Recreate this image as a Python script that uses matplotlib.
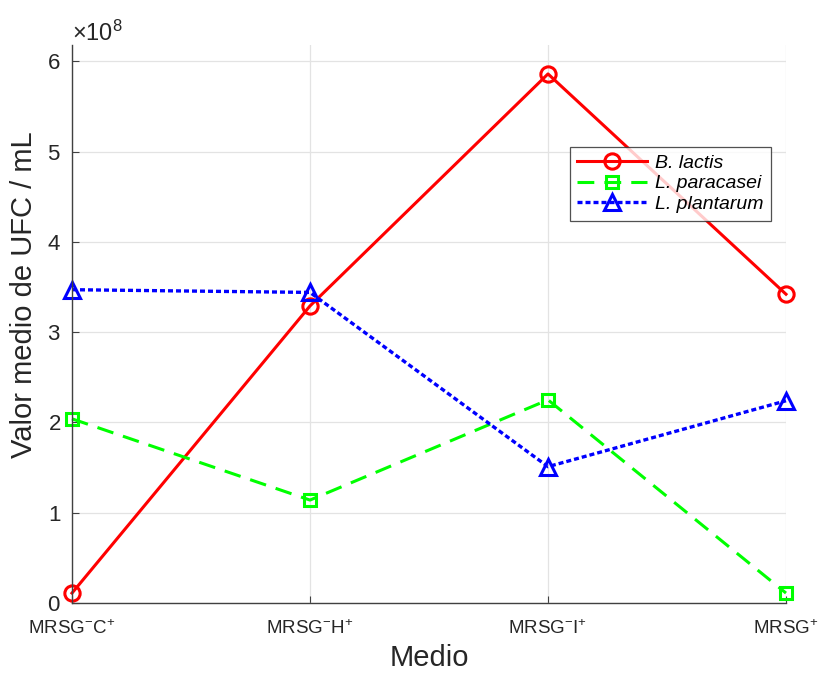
import numpy as np
import matplotlib
matplotlib.use("Agg")
import matplotlib.pyplot as plt
from matplotlib.ticker import ScalarFormatter

plt.rcParams["font.family"] = ["Liberation Sans", "DejaVu Sans"]
plt.rcParams["mathtext.fontset"] = "custom"
plt.rcParams["mathtext.rm"] = "Liberation Sans"
plt.rcParams["mathtext.it"] = "Liberation Sans:italic"

# Data (UFC / mL)
medios = [r"MRSG$^{-}$C$^{+}$", r"MRSG$^{-}$H$^{+}$", r"MRSG$^{-}$I$^{+}$", r"MRSG$^{+}$"]
b_lactis = [0.11e8, 3.29e8, 5.86e8, 3.42e8]
l_paracasei = [2.04e8, 1.14e8, 2.25e8, 0.11e8]
l_plantarum = [3.47e8, 3.44e8, 1.51e8, 2.24e8]

x = np.arange(1, len(medios) + 1)

fig = plt.figure(figsize=(8.22, 6.77), dpi=100)
ax = fig.add_axes([0.0876, 0.1093, 0.8686, 0.8242])

ax.plot(x, b_lactis, color=(1, 0, 0), lw=2.2, ls="-", marker="o",
        ms=11, mfc="none", mew=2.2, label="B. lactis", clip_on=False)
ax.plot(x, l_paracasei, color=(0, 1, 0), lw=2.2, ls=(0, (5.5, 3.3)), marker="s",
        ms=9, mfc="none", mew=2.2, label="L. paracasei", clip_on=False)
ax.plot(x, l_plantarum, color=(0, 0, 1), lw=2.4, ls=(0, (1.5, 0.9)), marker="^",
        ms=12, mfc="none", mew=2.2, label="L. plantarum", clip_on=False)

ax.set_xlim(1, 4)
ax.set_ylim(0, 6.18e8)
ax.set_xticks(x)
ax.set_xticklabels(medios)
ax.set_yticks(np.arange(0, 7) * 1e8)

fmt = ScalarFormatter(useMathText=True)
fmt.set_powerlimits((0, 0))
ax.yaxis.set_major_formatter(fmt)
ax.yaxis.get_offset_text().set_fontsize(17)
ax.yaxis.get_offset_text().set_color("#555555")

ax.grid(True, color="#e3e3e3", lw=0.9)
ax.set_axisbelow(True)
for s in ["top", "right"]:
    ax.spines[s].set_visible(False)
for s in ["left", "bottom"]:
    ax.spines[s].set_color("#404040")
    ax.spines[s].set_linewidth(1.0)
ax.tick_params(direction="in", length=5, colors="#404040", labelcolor="#262626")
ax.tick_params(axis="y", labelsize=16, pad=8)
ax.tick_params(axis="x", labelsize=13.5, pad=12)

ax.set_xlabel("Medio", fontsize=21, color="#262626", labelpad=4)
ax.set_ylabel("Valor medio de UFC / mL", fontsize=21, color="#262626")
ax.yaxis.set_label_coords(-0.047, 0.552)

leg = ax.legend(loc="upper left", bbox_to_anchor=(0.697, 0.818),
                prop={"style": "italic", "size": 14}, frameon=True, fancybox=False,
                edgecolor="#262626", handlelength=3.6, borderpad=0.4,
                labelspacing=0.15, handletextpad=0.4, borderaxespad=0)
leg.get_frame().set_linewidth(0.9)

fig.savefig("out.png", dpi=100)
